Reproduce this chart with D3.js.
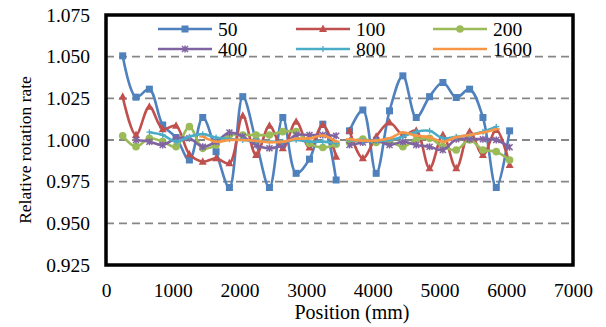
<!DOCTYPE html>
<html>
<head>
<meta charset="utf-8">
<script src="https://cdn.jsdelivr.net/npm/d3@7"></script>
<style>
  body { margin: 0; background: #fff; }
  svg { display: block; font-family: "Liberation Serif", "Times New Roman", serif; }
</style>
</head>
<body>
<svg id="chart" width="606" height="327"></svg>
<script>
// posiciones (mm); null = hueco entre los dos tramos
const positions = [250, 450, 650, 850, 1050, 1250, 1450, 1650, 1850, 2050, 2250, 2450, 2650, 2850, 3050, 3250, 3450,
                   3550,
                   3650, 3850, 4050, 4250, 4450, 4650, 4850, 5050, 5250, 5450, 5650, 5850, 6050];

const s50   = [1.0505, 1.0257, 1.0305, 1.009, 1.0015, 0.988, 1.0135, 0.993, 0.9715, 1.026, 0.999, 0.9715, 1.0135, 0.980, 0.9885, 1.0095, 0.976,
               null,
               1.0055, 1.018, 0.980, 1.0175, 1.0385, 1.0135, 1.026, 1.0345, 1.0255, 1.0305, 1.0135, 0.9715, 1.0055];
const s100  = [1.026, 1.003, 1.020, 1.0065, 1.0085, 0.9915, 0.987, 0.989, 0.986, 1.0145, 0.991, 1.0085, 0.995, 1.011, 0.9955, 1.009, 0.990,
               null,
               1.0055, 0.989, 1.002, 1.0105, 1.003, 1.0055, 0.983, 1.003, 0.983, 1.005, 0.991, 1.006, 0.985];
const s200  = [1.0025, 0.996, 1.001, 0.999, 0.996, 1.008, 0.995, 0.997, 1.003, 1.003, 1.003, 1.003, 1.005, 1.005, 0.998, 0.9955, 0.9975,
               null,
               0.9985, 1.0005, 0.9985, 0.999, 0.996, 1.000, 1.001, 0.996, 0.994, 1.000, 0.994, 0.993, 0.988];
const s400  = [null, 1.000, 0.999, 0.997, 1.001, 1.001, 0.996, 0.999, 1.0045, 1.002, 0.997, 0.995, 0.997, 1.003, 1.003, 1.003, 1.0025,
               null,
               0.997, 0.9985, 1.000, 0.997, 0.999, 0.997, 0.996, 0.994, 1.0005, 1.0005, 1.0005, 1.000, 0.9957];
const s800  = [null, null, 1.0047, 1.003, 0.999, 1.002, 1.0035, 1.0015, 1.0005, 1.000, 0.9995, 0.999, 0.999, 1.000, 0.999, 0.999, 0.998,
               null,
               1.000, 0.9995, 0.9995, 1.000, 1.002, 1.005, 1.0055, 1.001, 1.002, 1.003, 1.005, 1.008, null];
const s1600 = [null, null, null, null, null, null, 1.002, 0.999, 1.000, 1.000, 0.9995, 0.9987, 0.999, 1.0007, 1.001, 1.0027, 0.999,
               null,
               1.0005, 0.9997, 0.9997, 1.001, 1.0045, 1.0025, 1.0017, 0.999, 1.0017, 1.003, 1.0045, 1.0065, null];

const seriesNames = ['50', '100', '200', '400', '800', '1600'];
const seriesValues = [s50, s100, s200, s400, s800, s1600];
const colors = ['#4F81BD', '#C0504D', '#9BBB59', '#8064A2', '#4BACC6', '#F79646'];
const markers = ['square', 'triangle', 'circle', 'star', 'plus', 'dash'];

const xTicks = [0, 1000, 2000, 3000, 4000, 5000, 6000, 7000];
const yTicks = [0.925, 0.950, 0.975, 1.000, 1.025, 1.050, 1.075];

const svg = d3.select('#chart');
const plotLeft = 106, plotRight = 573, plotTop = 15, plotBottom = 265;

const x = d3.scaleLinear().domain([0, 7000]).range([plotLeft, plotRight]);
const y = d3.scaleLinear().domain([0.925, 1.075]).range([plotBottom, plotTop]);

// rejilla horizontal discontinua
svg.append('g')
    .selectAll('line')
    .data(yTicks.slice(1, -1))
    .enter()
    .append('line')
    .attr('x1', plotLeft).attr('x2', plotRight)
    .attr('y1', d => y(d)).attr('y2', d => y(d))
    .attr('stroke', '#868686')
    .attr('stroke-width', 1.8)
    .attr('stroke-dasharray', '8,5');

// ejes (solo etiquetas)
const yAxis = svg.append('g')
    .attr('transform', `translate(${plotLeft},0)`)
    .call(d3.axisLeft(y).tickValues(yTicks).tickFormat(d3.format('.3f')).tickSize(0).tickPadding(16));
yAxis.select('.domain').remove();
yAxis.selectAll('text').attr('font-size', 19.5).attr('font-family', 'Liberation Serif').attr('fill', '#000');

const xAxis = svg.append('g')
    .attr('transform', `translate(0,${plotBottom})`)
    .call(d3.axisBottom(x).tickValues(xTicks).tickFormat(d3.format('d')).tickSize(0).tickPadding(18.5));
xAxis.select('.domain').remove();
xAxis.selectAll('text').attr('font-size', 19.5).attr('font-family', 'Liberation Serif').attr('fill', '#000');

// títulos
svg.append('text')
    .attr('x', 352).attr('y', 319)
    .attr('text-anchor', 'middle')
    .attr('font-size', 20)
    .text('Position (mm)');
svg.append('text')
    .attr('transform', 'translate(31,150) rotate(-90)')
    .attr('text-anchor', 'middle')
    .attr('font-size', 17.5)
    .text('Relative rotation rate');

// marcadores
function drawMarker(g, type, color, cx, cy) {
    if (type === 'square') {
        g.append('rect').attr('x', cx - 3.5).attr('y', cy - 3.5).attr('width', 7).attr('height', 7).attr('fill', color);
    } else if (type === 'triangle') {
        g.append('path').attr('d', `M${cx},${cy - 4.5}L${cx + 4},${cy + 3}L${cx - 4},${cy + 3}Z`).attr('fill', color);
    } else if (type === 'circle') {
        g.append('circle').attr('cx', cx).attr('cy', cy).attr('r', 3.8).attr('fill', color);
    } else if (type === 'star') {
        g.append('path').attr('d', `M${cx - 3},${cy - 3}L${cx + 3},${cy + 3}M${cx - 3},${cy + 3}L${cx + 3},${cy - 3}M${cx},${cy - 3.5}L${cx},${cy + 3.5}`)
            .attr('stroke', color).attr('stroke-width', 1.5).attr('fill', 'none');
    } else if (type === 'plus') {
        g.append('path').attr('d', `M${cx - 3},${cy}L${cx + 3},${cy}M${cx},${cy - 3}L${cx},${cy + 3}`)
            .attr('stroke', color).attr('stroke-width', 1.3).attr('fill', 'none');
    } else if (type === 'dash') {
        g.append('path').attr('d', `M${cx - 3.5},${cy}L${cx + 3.5},${cy}`)
            .attr('stroke', color).attr('stroke-width', 2).attr('fill', 'none');
    }
}

// series
const line = d3.line()
    .defined(d => d.v !== null)
    .x(d => x(d.p))
    .y(d => y(d.v))
    .curve(d3.curveCatmullRom.alpha(0.5));

seriesValues.forEach((vals, i) => {
    const pts = positions.map((p, j) => ({ p: p, v: vals[j] }));
    const g = svg.append('g');
    g.append('path')
        .attr('d', line(pts))
        .attr('fill', 'none')
        .attr('stroke', colors[i])
        .attr('stroke-width', 2.6)
        .attr('stroke-linejoin', 'round');
    pts.filter(d => d.v !== null).forEach(d => drawMarker(g, markers[i], colors[i], x(d.p), y(d.v)));
});

// marco
svg.append('rect')
    .attr('x', plotLeft).attr('y', plotTop)
    .attr('width', plotRight - plotLeft).attr('height', plotBottom - plotTop)
    .attr('fill', 'none')
    .attr('stroke', '#000')
    .attr('stroke-width', 3.5);

// leyenda (2 filas x 3 columnas)
const legX = [158, 296, 433];
const legY = [29, 49];
seriesNames.forEach((name, i) => {
    const lx = legX[i % 3], ly = legY[Math.floor(i / 3)];
    const g = svg.append('g');
    g.append('line')
        .attr('x1', lx).attr('x2', lx + 54)
        .attr('y1', ly).attr('y2', ly)
        .attr('stroke', colors[i]).attr('stroke-width', 2.6);
    drawMarker(g, markers[i], colors[i], lx + 27, ly);
    g.append('text')
        .attr('x', lx + 60).attr('y', ly + 6.5)
        .attr('font-size', 19.5)
        .text(name);
});
</script>
</body>
</html>
